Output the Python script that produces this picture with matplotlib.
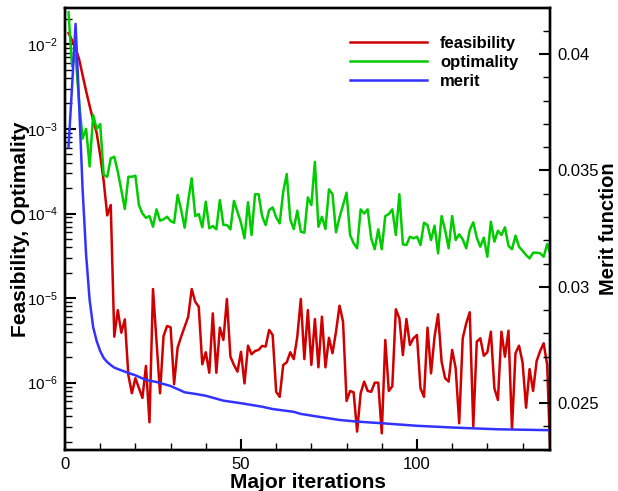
import matplotlib
matplotlib.use('Agg')
import matplotlib.pyplot as plt
from matplotlib.ticker import MultipleLocator, LogLocator, FuncFormatter, NullFormatter, LogFormatterSciNotation

plt.rcParams['font.family'] = ['Liberation Sans', 'DejaVu Sans']
plt.rcParams['mathtext.fontset'] = 'custom'
plt.rcParams['mathtext.rm'] = 'Liberation Sans'
plt.rcParams['mathtext.it'] = 'Liberation Sans:italic'
plt.rcParams['mathtext.bf'] = 'Liberation Sans:bold'

iterations = list(range(1, 139))

feasibility = [
    1.36e-2, 1.12e-2, 9.0e-3, 6.7e-3, 4.33e-3, 2.8e-3, 1.87e-3, 1.27e-3, 8.95e-4, 4.9e-4,
    2.4e-4, 9.5e-5, 1.26e-4, 3.5e-6, 7.2e-6, 3.9e-6, 5.6e-6, 1.23e-6, 7.5e-7, 1.13e-6,
    8.6e-7, 6.6e-7, 1.58e-6, 3.4e-7, 1.28e-5, 3.05e-6, 7.5e-7, 3.56e-6, 4.68e-6, 4.52e-6,
    9.6e-7, 2.6e-6, 3.5e-6, 4.6e-6, 6.0e-6, 1.28e-5, 9.06e-6, 7.9e-6, 1.65e-6, 2.29e-6,
    1.31e-6, 6.6e-6, 1.31e-6, 4.47e-6, 3.2e-6, 9.76e-6, 2.03e-6, 1.62e-6, 1.35e-6, 2.32e-6,
    9.8e-7, 2.74e-6, 2.17e-6, 2.37e-6, 2.44e-6, 2.72e-6, 2.67e-6, 4.2e-6, 3.66e-6, 7.8e-7,
    6.8e-7, 1.62e-6, 1.74e-6, 2.29e-6, 1.9e-6, 3.5e-6, 9.76e-6, 1.9e-6, 7.23e-6, 1.62e-6,
    5.66e-6, 1.52e-6, 6.03e-6, 1.52e-6, 3.4e-6, 2.23e-6, 4.01e-6, 8.13e-6, 5.26e-6, 6.08e-7,
    7.98e-7, 7.7e-7, 2.64e-7, 7.5e-7, 1.03e-6, 7.98e-7, 7.8e-7, 1.0e-6, 1.0e-6, 2.52e-7,
    3.2e-6, 7.98e-7, 9.1e-7, 7.38e-6, 5.77e-6, 2.12e-6, 5.66e-6, 2.79e-6, 3.35e-6, 3.66e-6,
    8.6e-7, 6.8e-7, 4.47e-6, 1.29e-6, 3.5e-6, 6.44e-6, 1.77e-6, 1.13e-6, 1.03e-6, 2.44e-6,
    1.48e-6, 3.31e-7, 3.35e-6, 5.04e-6, 6.8e-6, 3.02e-7, 3.05e-6, 3.35e-6, 2.08e-6, 2.29e-6,
    4.01e-6, 8.6e-7, 6.25e-7, 4.01e-6, 2.03e-6, 4.12e-6, 2.84e-7, 2.23e-6, 2.74e-6, 1.74e-6,
    5.06e-7, 1.45e-6, 7.98e-7, 1.8e-6, 2.37e-6, 2.92e-6, 1.62e-6, 1.0e-7,
]

optimality = [
    2.4e-2, 5.5e-3, 7.5e-3, 2.1e-3, 7.7e-4, 1.0e-3, 3.6e-4, 1.46e-3, 1.0e-3, 1.14e-3,
    2.85e-4, 2.72e-4, 4.49e-4, 4.69e-4, 3.12e-4, 1.9e-4, 1.13e-4, 2.72e-4, 2.72e-4, 2.8e-4,
    1.26e-4, 1.0e-4, 8.9e-5, 9.33e-5, 6.98e-5, 1.12e-4, 8.22e-5, 8.53e-5, 9.16e-5, 8.15e-5,
    7.78e-5, 1.66e-4, 1.1e-4, 6.8e-5, 1.41e-4, 2.61e-4, 9.33e-5, 9.86e-5, 6.87e-5, 1.38e-4,
    6.68e-5, 7.12e-5, 6.5e-5, 1.44e-4, 7.31e-5, 7.31e-5, 6.5e-5, 1.41e-4, 1.05e-4, 7.78e-5,
    5.09e-5, 1.36e-4, 5.57e-5, 1.69e-4, 1.69e-4, 9.33e-5, 7.31e-5, 1.1e-4, 1.18e-4, 9.01e-5,
    7.66e-5, 1.81e-4, 2.93e-4, 8.53e-5, 6.56e-5, 1.08e-4, 6.1e-5, 5.93e-5, 1.55e-4, 1.26e-4,
    4.09e-4, 6.98e-5, 9.16e-5, 6.56e-5, 1.93e-4, 1.7e-4, 6.0e-5, 9.01e-5, 1.26e-4, 1.76e-4,
    5.57e-5, 4.45e-5, 3.88e-5, 1.12e-4, 1.0e-4, 1.12e-4, 5.09e-5, 3.78e-5, 6.5e-5, 3.78e-5,
    9.33e-5, 9.86e-5, 1.12e-4, 5.57e-5, 1.69e-4, 4.32e-5, 4.24e-5, 5.32e-5, 5.09e-5, 5.32e-5,
    4.24e-5, 7.78e-5, 7.31e-5, 4.86e-5, 7.18e-5, 3.39e-5, 9.33e-5, 6.38e-5, 3.88e-5, 9.33e-5,
    4.86e-5, 5.68e-5, 4.95e-5, 3.88e-5, 6.38e-5, 7.87e-5, 5.18e-5, 4.05e-5, 5.18e-5, 3.08e-5,
    8.0e-5, 4.64e-5, 6.26e-5, 5.57e-5, 6.87e-5, 4.16e-5, 3.78e-5, 5.47e-5, 4.05e-5, 3.63e-5,
    3.23e-5, 2.95e-5, 3.44e-5, 3.44e-5, 3.39e-5, 3.08e-5, 4.36e-5, 3.23e-5,
]

merit_iterations = [1, 2, 3, 4, 5, 6, 7, 8, 9, 10, 11, 12, 13, 14, 15, 18, 20, 23, 26, 30,
                    34, 37, 40, 45, 50, 56, 59, 65, 67, 72, 78, 83, 90, 100, 111, 123, 138]
merit = [0.0360, 0.0386, 0.0413, 0.0379, 0.0342, 0.03137, 0.02943, 0.02827, 0.02767, 0.02724,
         0.02694, 0.02677, 0.02664, 0.02653, 0.02647, 0.0263, 0.0262, 0.0260, 0.02591, 0.02574,
         0.02547, 0.0254, 0.02532, 0.02511, 0.0250, 0.02485, 0.02475, 0.02463, 0.02454, 0.02442,
         0.02428, 0.02421, 0.02414, 0.02403, 0.02395, 0.02388, 0.02384]

labels = ['feasibility', 'optimality', 'merit']
colors = ['#d00000', '#00cc00', '#3333ff']

fig = plt.figure(figsize=(6.18, 4.91), dpi=100)
ax = fig.add_axes([65 / 618, 41 / 491, 485 / 618, 442 / 491])
ax2 = ax.twinx()

lw = 1.8
l1, = ax.plot(iterations, feasibility, color=colors[0], lw=lw)
l2, = ax.plot(iterations, optimality, color=colors[1], lw=lw)
l3, = ax2.plot(merit_iterations, merit, color=colors[2], lw=lw)

ax.set_yscale('log')
ax.set_ylim(1.6e-7, 2.69e-2)
ax.set_xlim(0, 137.8)
ax2.set_ylim(0.02299, 0.04198)

ax.xaxis.set_major_locator(MultipleLocator(50))
ax.xaxis.set_minor_locator(MultipleLocator(10))
ax.yaxis.set_major_locator(LogLocator(base=10, numticks=20))
ax.yaxis.set_minor_locator(LogLocator(base=10, subs=range(2, 10), numticks=20))
ax.yaxis.set_major_formatter(LogFormatterSciNotation())
ax.yaxis.set_minor_formatter(NullFormatter())

ax2.yaxis.set_major_locator(MultipleLocator(0.005))
ax2.yaxis.set_minor_locator(MultipleLocator(0.001))
ax2.yaxis.set_major_formatter(FuncFormatter(lambda v, p: f'{v:g}'))

for a in (ax, ax2):
    for s in a.spines.values():
        s.set_linewidth(1.7)

ax.tick_params(which='both', direction='in', top=False, right=False, labelsize=12, pad=5)
ax.tick_params(axis='y', labelsize=11)
ax.tick_params(which='major', length=8, width=1.5)
ax.tick_params(which='minor', length=5, width=1.0)
ax2.tick_params(which='both', direction='in', labelsize=12, pad=5)
ax2.tick_params(which='major', length=8, width=1.5)
ax2.tick_params(which='minor', length=5, width=1.0)

ax.set_xlabel('Major iterations', fontsize=15, fontweight='bold', labelpad=1)
ax.set_ylabel('Feasibility, Optimality', fontsize=15, fontweight='bold')
ax.yaxis.set_label_coords(-0.072, 0.5)
ax2.set_ylabel('Merit function', fontsize=14.5, fontweight='bold', labelpad=0)

ax2.legend([l1, l2, l3], labels, loc='upper left', bbox_to_anchor=(0.588, 0.937),
           frameon=False, borderpad=0, borderaxespad=0, handlelength=4.6,
           handletextpad=0.8, labelspacing=0.25, prop={'weight': 'bold', 'size': 12})

fig.savefig('out.png', dpi=100)
